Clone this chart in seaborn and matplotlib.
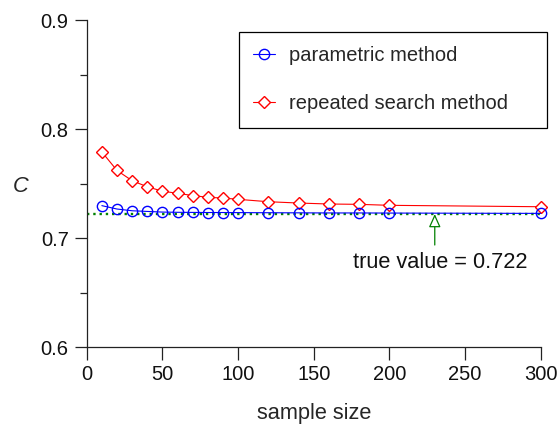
import matplotlib
matplotlib.use("Agg")
import matplotlib.pyplot as plt
from matplotlib.ticker import MultipleLocator
import seaborn as sns
import pandas as pd

# ---- data ----
sample_size = [10, 20, 30, 40, 50, 60, 70, 80, 90, 100, 120, 140, 160, 180, 200, 300]
parametric = [0.7297, 0.7266, 0.7250, 0.7244, 0.7238, 0.7236, 0.7235, 0.7234, 0.7234,
              0.7233, 0.7232, 0.7231, 0.7230, 0.7230, 0.7229, 0.7226]
repeated = [0.779, 0.762, 0.7526, 0.747, 0.743, 0.741, 0.739, 0.7373, 0.7367,
            0.7355, 0.7333, 0.7321, 0.7312, 0.7309, 0.7300, 0.7287]
true_value = 0.722
x_ticks = [0, 50, 100, 150, 200, 250, 300]
y_ticks = [0.6, 0.7, 0.8, 0.9]
label_param = "parametric method"
label_rep = "repeated search method"
annot_text = "true value = 0.722"
annot_x = 230
annot_tail_y = 0.6936
annot_text_pos = (233.8, 0.678)

df = pd.DataFrame({"n": sample_size, "param": parametric, "rep": repeated})

sns.set_style("ticks")
plt.rcParams["font.family"] = ["Liberation Sans", "DejaVu Sans"]
FS = 14.5
FS_L = 15.7
plt.rcParams["font.size"] = FS

fig = plt.figure(figsize=(5.58, 4.26), dpi=100)
ax = fig.add_axes([0.1554, 0.1854, 0.8136, 0.7676])

ax.axhline(true_value, xmin=0, xmax=1, color="#008000", ls=":", lw=1.7, zorder=1)

sns.lineplot(data=df, x="n", y="rep", ax=ax, color="red", lw=0.8,
             marker="D", ms=5.8, mfc="white", mec="red", mew=1.0,
             label=label_rep, zorder=3, clip_on=False)
sns.lineplot(data=df, x="n", y="param", ax=ax, color="blue", lw=0.8,
             marker="o", ms=7.4, mfc="none", mec="blue", mew=1.0,
             label=label_param, zorder=4, clip_on=False)

ax.annotate("", xy=(annot_x, true_value), xytext=(annot_x, annot_tail_y),
            arrowprops=dict(arrowstyle="-|>,head_length=0.8,head_width=0.36",
                            mutation_scale=10, fc="white", ec="green", lw=0.9,
                            shrinkA=0, shrinkB=0), zorder=5)
ax.text(annot_text_pos[0], annot_text_pos[1], annot_text, ha="center", va="center",
        fontsize=FS_L, color="#111111")

ax.set_xlim(0, 300)
ax.set_ylim(0.6, 0.9)
ax.set_xticks(x_ticks)
ax.set_xticklabels([str(t) for t in x_ticks])
ax.set_yticks(y_ticks)
ax.set_yticklabels([f"{t:.1f}" for t in y_ticks])
ax.yaxis.set_minor_locator(MultipleLocator(0.05))
ax.tick_params(axis="both", which="major", direction="out", length=9, width=0.9,
               pad=4, labelsize=FS, colors="#222222", labelcolor="#111111")
ax.tick_params(axis="y", which="minor", direction="out", length=4.8, width=0.9,
               colors="#222222")
for s in ["top", "right"]:
    ax.spines[s].set_visible(False)
for s in ["left", "bottom"]:
    ax.spines[s].set_linewidth(0.9)
    ax.spines[s].set_color("#222222")

ax.set_xlabel("sample size", fontsize=FS_L, va="center", ha="center")
ax.xaxis.set_label_coords(0.5, -0.202)
ax.set_ylabel("C", fontsize=FS_L, fontstyle="italic", rotation=0, va="center", ha="center")
ax.yaxis.set_label_coords(-0.1455, 0.492)

handles, labels = ax.get_legend_handles_labels()
order = [labels.index(label_param), labels.index(label_rep)]
leg = ax.legend([handles[i] for i in order], [labels[i] for i in order],
                loc="upper left", bbox_to_anchor=(0.3355, 0.673, 0.678, 0.29),
                mode="expand", borderaxespad=0, fontsize=FS, frameon=True,
                fancybox=False, framealpha=1, edgecolor="black",
                handlelength=1.1, handletextpad=0.7, labelspacing=1.45,
                borderpad=0.7)
leg.get_frame().set_linewidth(0.9)

fig.savefig("out.png", dpi=100)
